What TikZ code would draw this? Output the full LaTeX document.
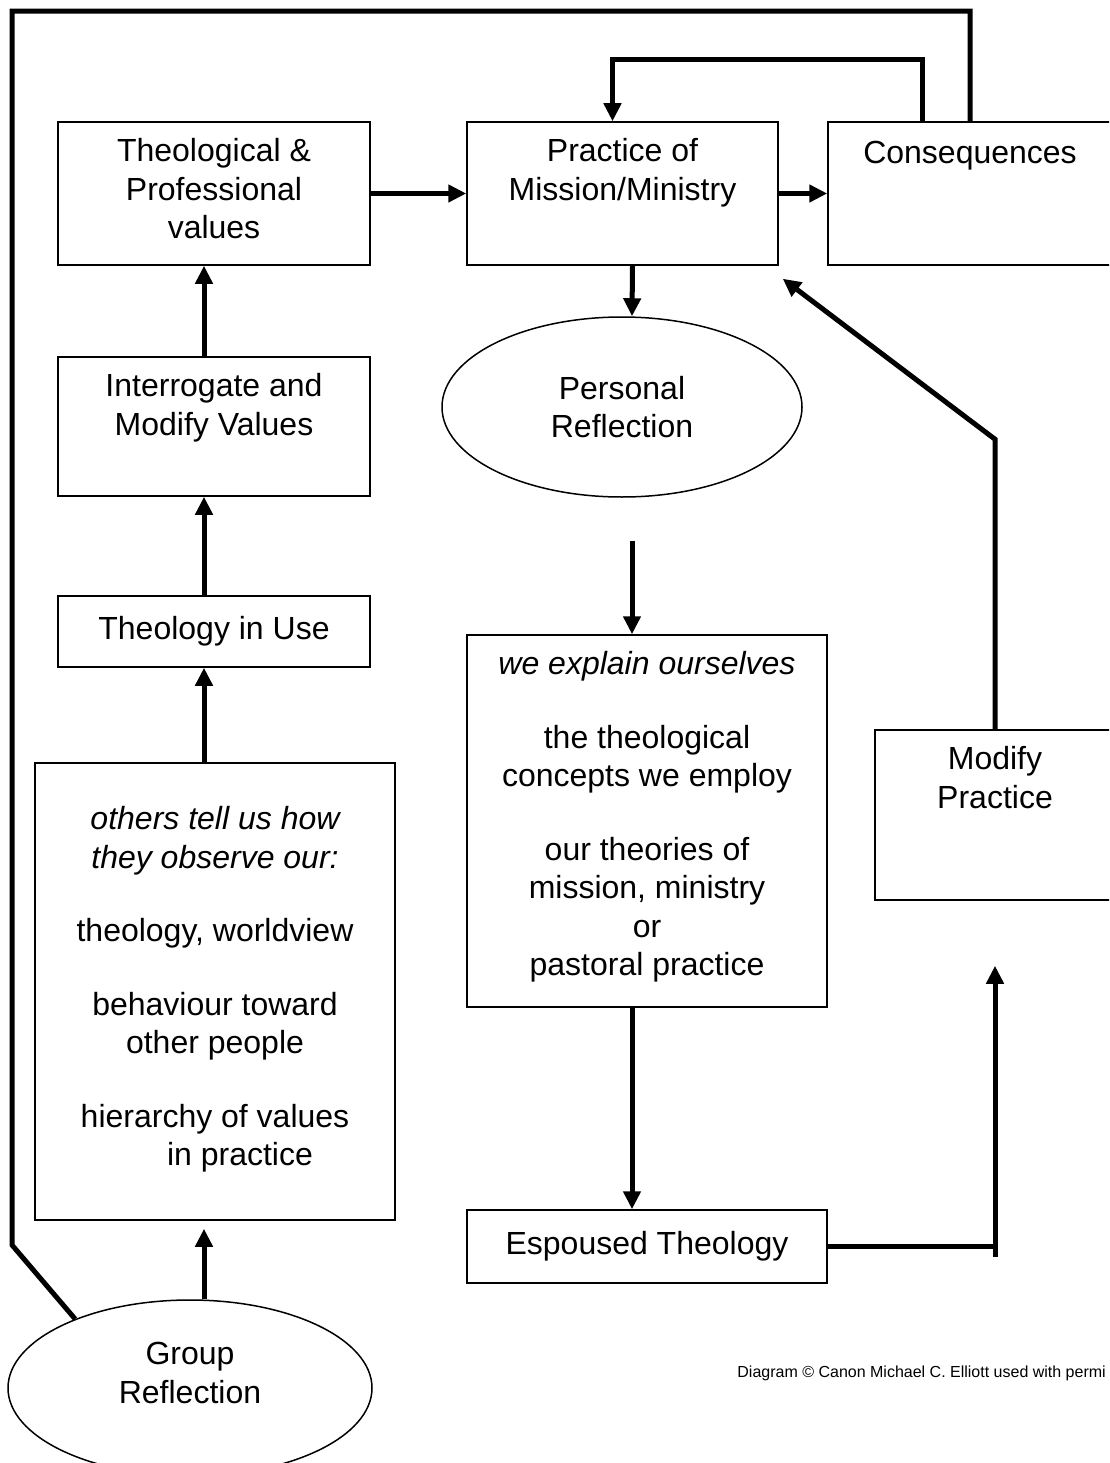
\documentclass[tikz,border=0pt]{standalone}
\usepackage{fontspec}
\setmainfont{Liberation Sans}
\usetikzlibrary{shapes.geometric, arrows.meta, positioning}
\tikzstyle{box}       = [rectangle, draw=black, line width=1.5pt, inner sep=0pt,
                         align=center, font=\fontsize{32}{38.5}\selectfont]
\tikzstyle{oval}      = [ellipse, draw=black, line width=1.5pt, inner sep=0pt,
                         align=center, font=\fontsize{32}{38.5}\selectfont]
\tikzstyle{txt}       = [align=center, inner sep=0pt,
                         font=\fontsize{32}{38.5}\selectfont]
\tikzstyle{arrow}     = [line width=5pt, -{Triangle[length=18pt,width=17pt]}]
\tikzstyle{thickline} = [line width=5pt]

\begin{document}
\begin{tikzpicture}[x=1pt, y=-1pt, node distance=17pt]
  \useasboundingbox (0,0) rectangle (1109,1463);
  \clip (0,0) rectangle (1109,1463);

  % top row
  \node[box, minimum width=312, minimum height=143] (tpv)  at (214,193.5) {};
  \node[txt, below=of tpv.north] (tpvt) {Theological \&\\Professional\\values};
  \node[box, minimum width=311, minimum height=143] (pmm)  at (622.5,193.5) {};
  \node[txt, below=of pmm.north] (pmmt) {Practice of\\Mission/Ministry};
  \node[box, minimum width=284, minimum height=143] (cons) at (970,193.5) {};
  \node[txt, below=20pt of cons.north] (const) {Consequences};

  % left column
  \node[box, minimum width=312, minimum height=139] (imv) at (214,426.5) {};
  \node[txt, below=of imv.north] (imvt) {Interrogate and\\Modify Values};
  \node[box, minimum width=312, minimum height=71] (tiu) at (214,631.5) {Theology in Use};
  \node[box, minimum width=360, minimum height=457] (oth) at (215,991.5) {};
  \node[txt, below=44pt of oth.north] (otht)
        {\itshape others tell us how\\\itshape they observe our:\\[35pt]
         theology, worldview\\[35pt]
         behaviour toward\\other people\\[35pt]
         hierarchy of values\\\hspace*{50pt}in practice};
  \node[oval, minimum width=364, minimum height=176] (grp) at (190,1388) {};
  \node[txt] (grpt) at ([yshift=15pt]grp.center) {Group\\Reflection};

  % middle column
  \node[oval, minimum width=360, minimum height=180] (pref) at (622,407)
        {Personal\\Reflection};
  \node[box, minimum width=360, minimum height=372] (wexp) at (647,821) {};
  \node[txt, below=of wexp.north] (wexpt)
        {\itshape we explain ourselves\\[35pt]
         the theological\\concepts we employ\\[35pt]
         our theories of\\mission, ministry\\or\\pastoral practice};
  \node[box, minimum width=360, minimum height=73] (esp) at (647,1246.5) {Espoused Theology};

  % right column
  \node[box, minimum width=240, minimum height=170] (mod) at (995,815) {};
  \node[txt, below=of mod.north] (modt) {Modify\\Practice};

  \node[anchor=base east, inner sep=0pt, font=\fontsize{16}{18}\selectfont]
        (credit) at (1106,1377) {Diagram © Canon Michael C. Elliott used with permi};

  % connectors
  \draw[arrow] (tpv.east) -- (pmm.west);
  \draw[arrow] (pmm.east) -- (cons.west);
  \draw[arrow] ([xshift=10pt]pmm.south) -- ([xshift=10pt]pref.north);
  \draw[arrow, shorten <=43pt] ([xshift=10pt]pref.south) -- ([xshift=-15pt]wexp.north);
  \draw[arrow] ([xshift=-15pt]wexp.south) -- ([xshift=-15pt]esp.north);

  \draw[arrow] ([xshift=-10pt]imv.north) -- ([xshift=-10pt]tpv.south);
  \draw[arrow] ([xshift=-10pt]tiu.north) -- ([xshift=-10pt]imv.south);
  \draw[arrow] ([xshift=-11pt]oth.north) -- ([xshift=-10pt]tiu.south);
  \draw[arrow, shorten >=8pt] ([xshift=14pt]grp.north) -- ([xshift=-11pt]oth.south);

  \coordinate (espr) at (esp.east -| mod.south);
  \draw[thickline] (esp.east) -- (espr);
  \draw[arrow, shorten >=65pt] ([yshift=-10pt]espr) -- (mod.south);

  \coordinate (modtop) at ([yshift=290pt]mod.north);
  \draw[arrow] (mod.north) -- (modtop) -- ([shift={(4pt,-13pt)}]pmm.south east);

  \draw[arrow] ([xshift=-48pt]cons.north) -- ++(0,-62) -| ([xshift=-10pt]pmm.north);

  \coordinate (lcorner) at (12,1245);
  \draw[thickline] (cons.north) -- ++(0,-110) -| (lcorner) -- (grp.149);
\end{tikzpicture}
\end{document}
